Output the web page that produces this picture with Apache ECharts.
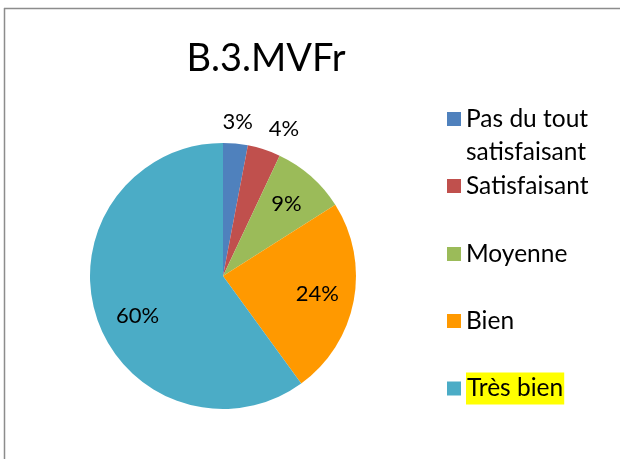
<!DOCTYPE html>
<html>
<head>
<meta charset="utf-8">
<script src="https://cdn.jsdelivr.net/npm/echarts@6/dist/echarts.min.js"></script>
<style>
html,body{margin:0;padding:0;background:#fff;}
#c{width:620px;height:459px;}
</style>
</head>
<body>
<div id="c"></div>
<script>
var titleText = 'B.3.MVFr';
var categories = ['Pas du tout satisfaisant', 'Satisfaisant', 'Moyenne', 'Bien', 'Très bien'];
var values = [3, 4, 9, 24, 60];
var colors = ['#4F81BD', '#C0504D', '#9BBB59', '#FF9900', '#4BACC6'];

var FONT = 'Lato';
var cx = 223, cy = 276, R = 133;
var data = categories.map(function (n, i) { return { name: n, value: values[i] }; });
// per-label placement tweaks (style only)
var labelPad = [[0, 0, 0, 0], [0, 0, 0, 26], [0, 0, 0, 0], [0, 0, 0, 0], [0, 0, 0, 12]];
var labelDrop = [false, false, false, false, true];

function labelData(showSmall) {
  return categories.map(function (n, i) {
    var small = values[i] < 5;
    var lbl = { show: small === showSmall, padding: labelPad[i] };
    if (labelDrop[i]) { lbl.formatter = ' \n{c}%'; lbl.lineHeight = 20; }
    return { name: n, value: values[i], label: lbl };
  });
}

var labelCommon = {
  position: 'inside',
  formatter: '{c}%',
  color: '#000',
  fontFamily: FONT,
  fontSize: 22
};

var legendCenters = [119, 186, 254, 321, 389];
var LFS = 24.5;
var legends = categories.map(function (n, i) {
  var lg = {
    data: [n],
    orient: 'vertical',
    left: 447,
    icon: 'rect',
    itemWidth: 14,
    itemHeight: 14,
    itemGap: 0,
    padding: 0,
    selectedMode: false,
    textStyle: { fontFamily: FONT, fontSize: LFS, color: '#000', lineHeight: 33 }
  };
  if (i === 0) {
    lg.formatter = function () { return ' \nPas du tout\nsatisfaisant'; };
    lg.top = legendCenters[i] - 49.5;
  } else if (i === 4) {
    lg.formatter = function (name) { return '{h|' + name + '}'; };
    lg.textStyle.rich = { h: { backgroundColor: '#FFFF00', fontFamily: FONT, fontSize: LFS, color: '#000', lineHeight: 32, height: 32, padding: [0, 1, 0, 1] } };
    lg.top = legendCenters[i] - 16.5;
  } else {
    lg.top = legendCenters[i] - 16.5;
  }
  return lg;
});

var chart = echarts.init(document.getElementById('c'), null, { renderer: 'canvas' });
chart.setOption({
  animation: false,
  color: colors,
  title: {
    text: titleText,
    left: 261,
    textAlign: 'center',
    top: 35,
    textStyle: { fontFamily: FONT, fontSize: 38, fontWeight: 'normal', color: '#000' }
  },
  legend: legends,
  graphic: [
    { type: 'line', shape: { x1: 4.5, y1: 8, x2: 4.5, y2: 459 }, style: { stroke: '#8c8c8c', lineWidth: 1.5 } },
    { type: 'line', shape: { x1: 4, y1: 8.5, x2: 620, y2: 8.5 }, style: { stroke: '#8c8c8c', lineWidth: 1.5 } }
  ],
  series: [
    {
      type: 'pie',
      center: [cx, cy],
      radius: [0, R],
      startAngle: 90,
      clockwise: true,
      data: data,
      label: { show: false },
      labelLine: { show: false },
      itemStyle: { borderWidth: 0 },
      emphasis: { disabled: true },
      silent: true
    },
    {
      type: 'pie',
      center: [cx, cy],
      radius: [R * 0.40, R],
      startAngle: 90,
      data: labelData(false),
      itemStyle: { color: 'rgba(0,0,0,0)' },
      label: labelCommon,
      labelLine: { show: false },
      emphasis: { disabled: true },
      silent: true
    },
    {
      type: 'pie',
      center: [cx, cy],
      radius: [137, 167],
      startAngle: 90,
      data: labelData(true),
      itemStyle: { color: 'rgba(0,0,0,0)' },
      label: labelCommon,
      labelLine: { show: false },
      emphasis: { disabled: true },
      silent: true
    }
  ]
});
</script>
</body>
</html>
